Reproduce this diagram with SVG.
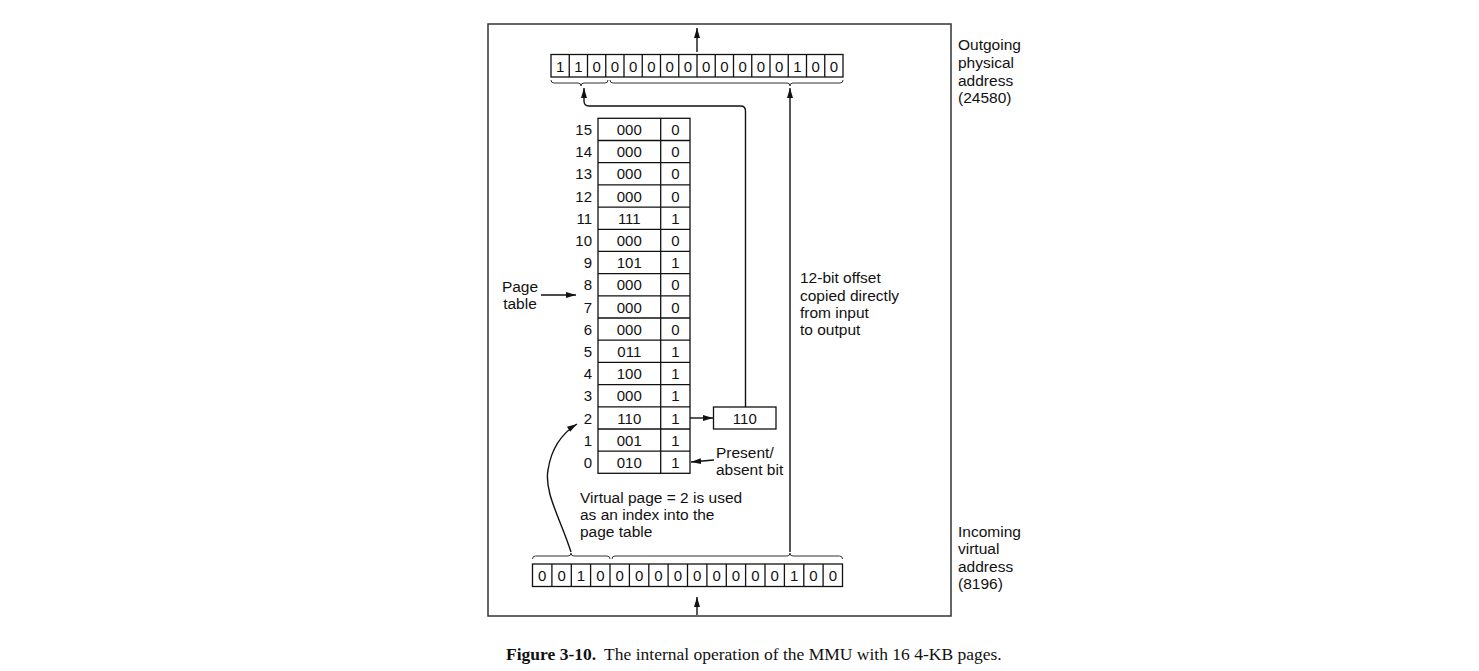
<svg xmlns="http://www.w3.org/2000/svg" width="1479" height="671" viewBox="0 0 1479 671">
<defs>
<marker id="ah" viewBox="0 0 10 6" refX="10" refY="3" markerWidth="10" markerHeight="6" markerUnits="userSpaceOnUse" orient="auto"><path d="M0,0 L10,3 L0,6 z" fill="#111"/></marker>
<style>
.t{font-family:"Liberation Sans",Arial,sans-serif;font-size:15px;fill:#111}
.l{font-family:"Liberation Sans",Arial,sans-serif;font-size:15.5px;fill:#111}
.c{text-anchor:middle}
.r{text-anchor:end}
.cell{fill:#fff;stroke:#111;stroke-width:1.3}
.ln{fill:none;stroke:#111;stroke-width:1.4}
.br{fill:none;stroke:#333;stroke-width:1}
.cap{font-family:"Liberation Serif","Times New Roman",serif;font-size:17.5px;fill:#111}
</style>
</defs>
<rect width="1479" height="671" fill="#fff"/>
<rect x="488" y="24" width="463" height="592" fill="none" stroke="#333" stroke-width="1.5"/>

<g id="outgoing-address">
<rect class="cell" x="551" y="54.5" width="292" height="22.5"/>
<g stroke="#111" stroke-width="1.3">
<line x1="569.25" y1="54.5" x2="569.25" y2="77"/><line x1="587.5" y1="54.5" x2="587.5" y2="77"/><line x1="605.75" y1="54.5" x2="605.75" y2="77"/><line x1="624" y1="54.5" x2="624" y2="77"/><line x1="642.25" y1="54.5" x2="642.25" y2="77"/><line x1="660.5" y1="54.5" x2="660.5" y2="77"/><line x1="678.75" y1="54.5" x2="678.75" y2="77"/><line x1="697" y1="54.5" x2="697" y2="77"/><line x1="715.25" y1="54.5" x2="715.25" y2="77"/><line x1="733.5" y1="54.5" x2="733.5" y2="77"/><line x1="751.75" y1="54.5" x2="751.75" y2="77"/><line x1="770" y1="54.5" x2="770" y2="77"/><line x1="788.25" y1="54.5" x2="788.25" y2="77"/><line x1="806.5" y1="54.5" x2="806.5" y2="77"/><line x1="824.75" y1="54.5" x2="824.75" y2="77"/>
</g>
<g class="t c">
<text x="560.1" y="71.5">1</text><text x="578.4" y="71.5">1</text><text x="596.6" y="71.5">0</text><text x="614.9" y="71.5">0</text><text x="633.1" y="71.5">0</text><text x="651.4" y="71.5">0</text><text x="669.6" y="71.5">0</text><text x="687.9" y="71.5">0</text><text x="706.1" y="71.5">0</text><text x="724.4" y="71.5">0</text><text x="742.6" y="71.5">0</text><text x="760.9" y="71.5">0</text><text x="779.1" y="71.5">0</text><text x="797.4" y="71.5">1</text><text x="815.6" y="71.5">0</text><text x="833.9" y="71.5">0</text>
</g>
<path class="br" d="M551,80 q0,3 3,3 H578 q3,0 3,3 q0,-3 3,-3 H605 q3,0 3,-3"/>
<path class="br" d="M610,80 q0,3 3,3 H787 q3,0 3,3 q0,-3 3,-3 H840 q3,0 3,-3"/>
</g>

<g id="outgoing-label" class="l">
<text x="958" y="50">Outgoing</text>
<text x="958" y="68">physical</text>
<text x="958" y="86">address</text>
<text x="958" y="103">(24580)</text>
</g>

<g id="page-table">
<rect class="cell" x="598" y="118.3" width="92" height="355"/>
<line x1="660.7" y1="118.3" x2="660.7" y2="473.3" stroke="#111" stroke-width="1.3"/>
<g stroke="#111" stroke-width="1.3">
<line x1="598" y1="140.5" x2="690" y2="140.5"/><line x1="598" y1="162.7" x2="690" y2="162.7"/><line x1="598" y1="184.9" x2="690" y2="184.9"/><line x1="598" y1="207.1" x2="690" y2="207.1"/><line x1="598" y1="229.3" x2="690" y2="229.3"/><line x1="598" y1="251.4" x2="690" y2="251.4"/><line x1="598" y1="273.6" x2="690" y2="273.6"/><line x1="598" y1="295.8" x2="690" y2="295.8"/><line x1="598" y1="318" x2="690" y2="318"/><line x1="598" y1="340.2" x2="690" y2="340.2"/><line x1="598" y1="362.4" x2="690" y2="362.4"/><line x1="598" y1="384.6" x2="690" y2="384.6"/><line x1="598" y1="406.8" x2="690" y2="406.8"/><line x1="598" y1="429" x2="690" y2="429"/><line x1="598" y1="451.2" x2="690" y2="451.2"/>
</g>
<g class="t r">
<text x="592" y="135">15</text><text x="592" y="157.2">14</text><text x="592" y="179.4">13</text><text x="592" y="201.6">12</text><text x="592" y="223.8">11</text><text x="592" y="245.9">10</text><text x="592" y="268.1">9</text><text x="592" y="290.3">8</text><text x="592" y="312.5">7</text><text x="592" y="334.7">6</text><text x="592" y="356.9">5</text><text x="592" y="379.1">4</text><text x="592" y="401.3">3</text><text x="592" y="423.5">2</text><text x="592" y="445.7">1</text><text x="592" y="467.9">0</text>
</g>
<g class="t c">
<text x="629.3" y="135">000</text><text x="629.3" y="157.2">000</text><text x="629.3" y="179.4">000</text><text x="629.3" y="201.6">000</text><text x="629.3" y="223.8">111</text><text x="629.3" y="245.9">000</text><text x="629.3" y="268.1">101</text><text x="629.3" y="290.3">000</text><text x="629.3" y="312.5">000</text><text x="629.3" y="334.7">000</text><text x="629.3" y="356.9">011</text><text x="629.3" y="379.1">100</text><text x="629.3" y="401.3">000</text><text x="629.3" y="423.5">110</text><text x="629.3" y="445.7">001</text><text x="629.3" y="467.9">010</text>
<text x="675.3" y="135">0</text><text x="675.3" y="157.2">0</text><text x="675.3" y="179.4">0</text><text x="675.3" y="201.6">0</text><text x="675.3" y="223.8">1</text><text x="675.3" y="245.9">0</text><text x="675.3" y="268.1">1</text><text x="675.3" y="290.3">0</text><text x="675.3" y="312.5">0</text><text x="675.3" y="334.7">0</text><text x="675.3" y="356.9">1</text><text x="675.3" y="379.1">1</text><text x="675.3" y="401.3">1</text><text x="675.3" y="423.5">1</text><text x="675.3" y="445.7">1</text><text x="675.3" y="467.9">1</text>
</g>
</g>

<g id="page-table-label" class="l">
<text x="520" y="292" class="c">Page</text>
<text x="520" y="309" class="c">table</text>
</g>

<g id="frame-box">
<rect class="cell" x="713.5" y="407" width="62.5" height="22"/>
<text class="t c" x="744.8" y="423.5">110</text>
</g>

<g id="present-label" class="l">
<text x="716" y="458">Present/</text>
<text x="716" y="475">absent bit</text>
</g>

<g id="offset-label" class="l">
<text x="800" y="283">12-bit offset</text>
<text x="800" y="301">copied directly</text>
<text x="800" y="318">from input</text>
<text x="800" y="335">to output</text>
</g>

<g id="virtual-page-label" class="l">
<text x="580" y="503">Virtual page = 2 is used</text>
<text x="580" y="520">as an index into the</text>
<text x="580" y="537">page table</text>
</g>

<g id="incoming-address">
<rect class="cell" x="532.5" y="564" width="310" height="22.5"/>
<g stroke="#111" stroke-width="1.3">
<line x1="551.9" y1="564" x2="551.9" y2="586.5"/><line x1="571.3" y1="564" x2="571.3" y2="586.5"/><line x1="590.6" y1="564" x2="590.6" y2="586.5"/><line x1="610" y1="564" x2="610" y2="586.5"/><line x1="629.4" y1="564" x2="629.4" y2="586.5"/><line x1="648.8" y1="564" x2="648.8" y2="586.5"/><line x1="668.1" y1="564" x2="668.1" y2="586.5"/><line x1="687.5" y1="564" x2="687.5" y2="586.5"/><line x1="706.9" y1="564" x2="706.9" y2="586.5"/><line x1="726.3" y1="564" x2="726.3" y2="586.5"/><line x1="745.6" y1="564" x2="745.6" y2="586.5"/><line x1="765" y1="564" x2="765" y2="586.5"/><line x1="784.4" y1="564" x2="784.4" y2="586.5"/><line x1="803.8" y1="564" x2="803.8" y2="586.5"/><line x1="823.1" y1="564" x2="823.1" y2="586.5"/>
</g>
<g class="t c">
<text x="542.2" y="581">0</text><text x="561.6" y="581">0</text><text x="581" y="581">1</text><text x="600.3" y="581">0</text><text x="619.7" y="581">0</text><text x="639.1" y="581">0</text><text x="658.5" y="581">0</text><text x="677.8" y="581">0</text><text x="697.2" y="581">0</text><text x="716.6" y="581">0</text><text x="736" y="581">0</text><text x="755.3" y="581">0</text><text x="774.7" y="581">0</text><text x="794.1" y="581">1</text><text x="813.5" y="581">0</text><text x="832.8" y="581">0</text>
</g>
<path class="br" d="M532.5,559 q0,-3 3,-3 H568 q3,0 3,-3 q0,3 3,3 H607 q3,0 3,3"/>
<path class="br" d="M612,559 q0,-3 3,-3 H787 q3,0 3,-3 q0,3 3,3 H839.5 q3,0 3,3"/>
</g>

<g id="incoming-label" class="l">
<text x="958" y="537">Incoming</text>
<text x="958" y="554">virtual</text>
<text x="958" y="572">address</text>
<text x="958" y="589">(8196)</text>
</g>

<g id="connectors">
<path class="ln" d="M697,52 V28" marker-end="url(#ah)"/>
<path class="ln" d="M697,615 V597" marker-end="url(#ah)"/>
<path class="ln" d="M745.5,407 V111 Q745.5,106 740.5,106 H589 Q584,106 584,101 V88" marker-end="url(#ah)"/>
<path class="ln" d="M790,552 V88" marker-end="url(#ah)"/>
<path class="ln" d="M690,418 H713" marker-end="url(#ah)"/>
<path class="ln" d="M714,460 L691,462" marker-end="url(#ah)"/>
<path class="ln" d="M541,295 H576" marker-end="url(#ah)"/>
<path class="ln" d="M571,552 C560,518 544,492 548,470 C551,450 561,434 577,424" marker-end="url(#ah)"/>
</g>

<g id="caption">
<text class="cap" x="506" y="660"><tspan font-weight="bold">Figure 3-10.</tspan><tspan dx="8">The internal operation of the MMU with 16 4-KB pages.</tspan></text>
</g>
</svg>
